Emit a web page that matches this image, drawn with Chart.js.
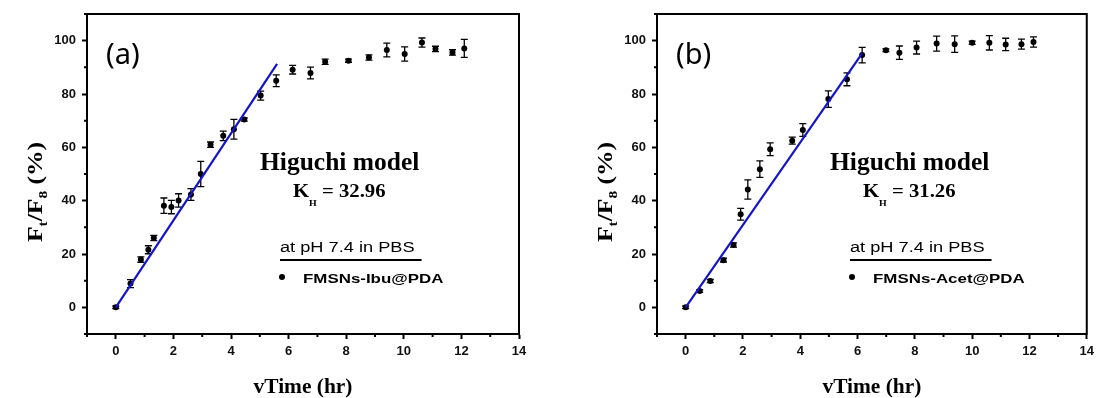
<!DOCTYPE html>
<html>
<head>
<meta charset="utf-8">
<script src="https://cdn.jsdelivr.net/npm/chart.js@4.4.1/dist/chart.umd.min.js"></script>
<style>
  html, body { margin: 0; padding: 0; background: #fff; }
  #wrap { position: relative; width: 1099px; height: 398px; overflow: hidden; }
  #chartA { position: absolute; left: 0; top: 0; }
  #chartB { position: absolute; left: 570px; top: 0; }
</style>
</head>
<body>
<div id="wrap">
  <canvas id="chartA" width="550" height="398"></canvas>
  <canvas id="chartB" width="529" height="398"></canvas>
</div>
<script>
// Panel (a) - FMSNs-Ibu@PDA
const timeA = [0, 0.51, 0.87, 1.13, 1.32, 1.67, 1.93, 2.18, 2.61, 2.95, 3.29, 3.73, 4.10, 4.46, 5.03, 5.57, 6.14, 6.76, 7.27, 8.08, 8.79, 9.41, 10.03, 10.63, 11.10, 11.69, 12.10];
const releaseA = [0, 8.9, 17.9, 21.6, 26.0, 38.1, 37.6, 40.1, 42.3, 50.0, 61.0, 64.3, 66.8, 70.4, 79.4, 85.0, 89.1, 87.9, 92.1, 92.5, 93.7, 96.5, 95.0, 99.3, 96.9, 95.6, 97.1];
const errA = [0.5, 1.5, 1.0, 1.5, 1.0, 2.9, 2.5, 2.5, 2.2, 4.7, 1.0, 1.8, 3.7, 0.6, 1.7, 2.2, 1.6, 2.2, 1.0, 0.6, 1.0, 2.6, 2.7, 1.7, 1.0, 1.0, 3.4];
const fitTimeA = [0, 5.6];
const fitReleaseA = [0, 91.3];

// Panel (b) - FMSNs-Acet@PDA
const timeB = [0, 0.49, 0.86, 1.32, 1.67, 1.92, 2.17, 2.59, 2.95, 3.72, 4.09, 4.98, 5.63, 6.16, 6.99, 7.46, 8.06, 8.76, 9.39, 10.0, 10.6, 11.17, 11.72, 12.14];
const releaseB = [0, 6.1, 9.9, 17.7, 23.4, 34.9, 44.2, 51.8, 59.3, 62.5, 66.5, 78.1, 85.5, 94.6, 96.4, 95.5, 97.4, 98.9, 98.7, 99.2, 99.2, 98.6, 98.7, 99.5];
const errB = [0.5, 0.5, 0.6, 0.7, 0.8, 2.2, 3.6, 3.1, 2.4, 1.3, 2.4, 3.1, 2.4, 2.9, 0.5, 2.5, 2.4, 2.8, 3.1, 0.6, 2.7, 2.3, 1.9, 1.9];
const fitTimeB = [0, 6.16];
const fitReleaseB = [0, 95.2];

const SANS = '"Liberation Sans", Arial, sans-serif';
const SERIF = '"Liberation Serif", "Times New Roman", serif';

function stretchText(ctx, text, x, y, font, sx) {
  ctx.save();
  ctx.font = font;
  ctx.translate(x, y);
  ctx.scale(sx, 1);
  ctx.fillText(text, 0, 0);
  ctx.restore();
  ctx.font = font;
  return ctx.measureText(text).width * sx;
}

function makePanel(id, times, values, errs, fitX, fitY, panel, kValue, sample, padRight) {
  const deco = {
    id: 'deco' + panel,
    beforeDatasetsDraw(chart) {
      // error bars
      const { ctx, scales: { x, y } } = chart;
      ctx.save();
      ctx.strokeStyle = '#000';
      ctx.lineWidth = 1.3;
      times.forEach((t, i) => {
        const px = x.getPixelForValue(t);
        const top = y.getPixelForValue(values[i] + errs[i]);
        const bot = y.getPixelForValue(values[i] - errs[i]);
        ctx.beginPath();
        ctx.moveTo(px, top); ctx.lineTo(px, bot);
        ctx.moveTo(px - 3.5, top); ctx.lineTo(px + 3.5, top);
        ctx.moveTo(px - 3.5, bot); ctx.lineTo(px + 3.5, bot);
        ctx.stroke();
      });
      ctx.restore();
    },
    afterDraw(chart) {
      const { ctx, chartArea: a, scales: { x, y } } = chart;
      ctx.save();
      ctx.strokeStyle = '#000';
      ctx.fillStyle = '#000';
      // top + right frame
      ctx.lineWidth = 2;
      ctx.beginPath();
      ctx.moveTo(a.left - 1, a.top);
      ctx.lineTo(a.right, a.top);
      ctx.lineTo(a.right, a.bottom + 1);
      ctx.stroke();
      // minor ticks
      ctx.lineWidth = 2;
      ctx.beginPath();
      x.ticks.forEach(t => {
        if (t.value % 2 !== 0) {
          const px = x.getPixelForValue(t.value);
          ctx.moveTo(px, a.bottom); ctx.lineTo(px, a.bottom + 3);
        }
      });
      y.ticks.forEach(t => {
        if (t.value % 20 !== 0) {
          const py = y.getPixelForValue(t.value);
          ctx.moveTo(a.left, py); ctx.lineTo(a.left - 3, py);
        }
      });
      ctx.stroke();

      const L = a.left;
      ctx.textBaseline = 'alphabetic';
      // panel label
      stretchText(ctx, '(' + panel + ')', L + 19, 64, '29px "Noto Sans", sans-serif', 1);
      // model text
      stretchText(ctx, 'Higuchi model', L + 173, 170, 'bold 25px ' + SERIF, 1.02);
      let kx = L + 206;
      kx += stretchText(ctx, 'K', kx, 197, 'bold 18px ' + SERIF, 1.15);
      kx += stretchText(ctx, 'H', kx, 206, 'bold 9px ' + SERIF, 1.1);
      stretchText(ctx, ' = ' + kValue, kx, 197, 'bold 18px ' + SERIF, 1.15);
      // legend block
      const w = stretchText(ctx, 'at pH 7.4 in PBS', L + 193, 252, '14px ' + SANS, 1.3);
      ctx.lineWidth = 2;
      ctx.beginPath();
      ctx.moveTo(L + 193, 260); ctx.lineTo(L + 193 + w + 7, 260);
      ctx.stroke();
      ctx.beginPath();
      ctx.arc(L + 195, 277, 3, 0, Math.PI * 2);
      ctx.fill();
      stretchText(ctx, sample, L + 216, 283, 'bold 13px ' + SANS, 1.3);

      // x axis title
      ctx.font = 'bold 20px ' + SERIF;
      const xt = 'vTime (hr)';
      const xw = ctx.measureText(xt).width * 1.07;
      stretchText(ctx, xt, (a.left + a.right) / 2 - xw / 2, 393, 'bold 20px ' + SERIF, 1.07);

      // y axis title, rotated, with subscripts
      const parts = [['F', 20, 0], ['t', 12, 5], ['/F', 20, 0], ['8', 12, 5], [' (%)', 20, 0]];
      let total = 0;
      parts.forEach(p => { ctx.font = 'bold ' + p[1] + 'px ' + SERIF; total += ctx.measureText(p[0]).width; });
      const sy = 1.28;
      ctx.save();
      ctx.translate(L - 45, 192);
      ctx.rotate(-Math.PI / 2);
      ctx.scale(sy, 1);
      let cx = -total / 2;
      parts.forEach(p => {
        ctx.font = 'bold ' + p[1] + 'px ' + SERIF;
        ctx.fillText(p[0], cx, p[2]);
        cx += ctx.measureText(p[0]).width;
      });
      ctx.restore();
      ctx.restore();
    }
  };

  const tickFont = { family: SANS, size: 13, weight: 'bold' };
  return new Chart(document.getElementById(id), {
    type: 'scatter',
    data: {
      datasets: [
        {
          type: 'line',
          data: fitX.map((v, i) => ({ x: v, y: fitY[i] })),
          borderColor: '#1414c8',
          borderWidth: 2.2,
          pointRadius: 0,
          fill: false
        },
        {
          data: times.map((v, i) => ({ x: v, y: values[i] })),
          backgroundColor: '#000',
          borderColor: '#000',
          borderWidth: 0,
          pointRadius: 3
        }
      ]
    },
    options: {
      responsive: false,
      animation: false,
      layout: { padding: { top: 14, left: 0, right: padRight, bottom: 0 } },
      plugins: { legend: { display: false }, tooltip: { enabled: false } },
      scales: {
        x: {
          type: 'linear',
          min: -1, max: 14,
          afterFit: s => { s.height = 64; },
          border: { display: true, color: '#000', width: 2 },
          grid: {
            drawOnChartArea: false, tickLength: 5, tickWidth: 2,
            tickColor: c => (c.tick && c.tick.value % 2 === 0) ? '#000' : 'rgba(0,0,0,0)'
          },
          ticks: {
            stepSize: 1, autoSkip: false, maxRotation: 0, padding: 5,
            color: '#111', font: tickFont,
            callback: v => (v % 2 === 0 ? v : '')
          }
        },
        y: {
          type: 'linear',
          min: -10, max: 110,
          afterFit: s => { s.width = 87; },
          border: { display: true, color: '#000', width: 2 },
          grid: {
            drawOnChartArea: false, tickLength: 5, tickWidth: 2,
            tickColor: c => (c.tick && c.tick.value % 20 === 0) ? '#000' : 'rgba(0,0,0,0)'
          },
          ticks: {
            stepSize: 10, autoSkip: false, padding: 6,
            color: '#111', font: tickFont,
            callback: v => (v % 20 === 0 ? v : '')
          }
        }
      }
    },
    plugins: [deco]
  });
}

makePanel('chartA', timeA, releaseA, errA, fitTimeA, fitReleaseA, 'a', '32.96', 'FMSNs-Ibu@PDA', 31);
makePanel('chartB', timeB, releaseB, errB, fitTimeB, fitReleaseB, 'b', '31.26', 'FMSNs-Acet@PDA', 11);
</script>
</body>
</html>
